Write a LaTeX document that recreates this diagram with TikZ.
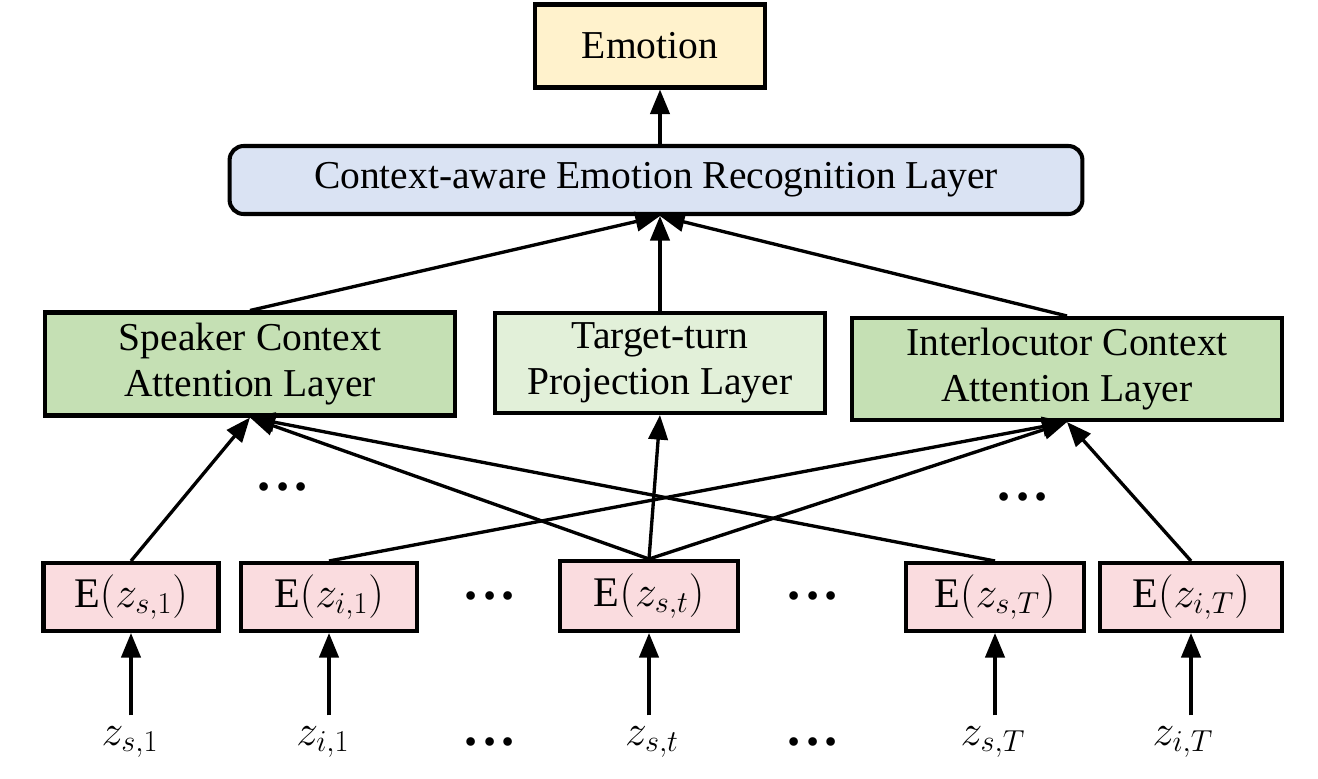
\documentclass[tikz,border=0pt]{standalone}
\usepackage{fontspec}
\setmainfont{Liberation Serif}
\usetikzlibrary{arrows.meta}
\definecolor{emoyellow}{HTML}{FFF2CC}
\definecolor{ctxblue}{HTML}{DAE3F3}
\definecolor{attgreen}{HTML}{C5E0B4}
\definecolor{projgreen}{HTML}{E2F0D9}
\definecolor{embpink}{HTML}{FADCDF}

\begin{document}
\begin{tikzpicture}[x=0.02cm,y=-0.02cm,>={Triangle[length=14pt,width=11pt]},
    box/.style={draw,line width=2.3pt,align=center,inner sep=0pt,font=\fontsize{22.5}{26}\selectfont},
    emb/.style={box,fill=embpink,minimum height=1.36cm,font=\fontsize{24}{26}\selectfont},
    arr/.style={->,line width=1.9pt},
    lbl/.style={font=\fontsize{26}{28}\selectfont,inner sep=2pt},
    dots/.style={font=\fontsize{30}{30}\selectfont\bfseries,inner sep=0pt}]

    \useasboundingbox (0,0) rectangle (1318,778);

    % top part
    \node[box, fill=emoyellow, minimum width=4.6cm, minimum height=1.66cm] (emo) at (650,46) {Emotion};
    \node[box, fill=ctxblue, rounded corners=8pt, minimum width=17.06cm, minimum height=1.36cm] (ctx) at (656,180) {Context-aware Emotion Recognition Layer};

    % middle layers
    \node[box, fill=attgreen, minimum width=8.22cm, minimum height=2.06cm] (spk) at (250,364) {Speaker Context\\Attention Layer};
    \node[box, fill=projgreen, minimum width=6.6cm, minimum height=2.0cm] (tgt) at (660,363) {Target-turn\\Projection Layer};
    \node[box, fill=attgreen, minimum width=8.6cm, minimum height=2.04cm] (itl) at (1067,369) {Interlocutor Context\\Attention Layer};

    % embeddings
    \node[emb, minimum width=3.5cm] (es1) at (131,597) {E$(z_{s,1})$};
    \node[emb, minimum width=3.52cm] (ei1) at (329,597) {E$(z_{i,1})$};
    \node[emb, minimum width=3.56cm, minimum height=1.4cm] (est) at (649,596) {E$(z_{s,t})$};
    \node[emb, minimum width=3.56cm] (esT) at (995,597) {E$(z_{s,T})$};
    \node[emb, minimum width=3.64cm] (eiT) at (1191,597) {E$(z_{i,T})$};

    % inputs
    \node[lbl] (zs1) at (130,742) {$z_{s,1}$};
    \node[lbl] (zi1) at (323,742) {$z_{i,1}$};
    \node[lbl] (zst) at (652,742) {$z_{s,t}$};
    \node[lbl] (zsT) at (993,742) {$z_{s,T}$};
    \node[lbl] (ziT) at (1183,742) {$z_{i,T}$};

    % dots
    \node[dots] (d1) at (283,487) {.\hspace{3pt}.\hspace{3pt}.};
    \node[dots] (d2) at (490,596) {.\hspace{3pt}.\hspace{3pt}.};
    \node[dots] (d3) at (813,596) {.\hspace{3pt}.\hspace{3pt}.};
    \node[dots] (d4) at (1023,497) {.\hspace{3pt}.\hspace{3pt}.};
    \node[dots] (d5) at (490,742) {.\hspace{3pt}.\hspace{3pt}.};
    \node[dots] (d6) at (813,742) {.\hspace{3pt}.\hspace{3pt}.};

    \draw[arr] (ctx.north -| tgt) -- (emo.south -| tgt);
    \draw[arr] (spk.north) -- (ctx.south -| tgt);
    \draw[arr] (tgt.north) -- (ctx.south -| tgt);
    \draw[arr] (itl.north) -- (ctx.south -| tgt);

    \draw[arr] (es1.north) -- (spk.south);
    \draw[arr] (est.north) -- (spk.south);
    \draw[arr] (esT.north) -- (spk.south);
    \draw[arr] (est.north) -- (tgt.south);
    \draw[arr] (ei1.north) -- (itl.south);
    \draw[arr] (est.north) -- (itl.south);
    \draw[arr] (eiT.north) -- (itl.south);

    \draw[arr, shorten <=4pt] (zs1.north -| es1) -- (es1.south);
    \draw[arr, shorten <=4pt] (zi1.north -| ei1) -- (ei1.south);
    \draw[arr, shorten <=4pt] (zst.north -| est) -- (est.south);
    \draw[arr, shorten <=4pt] (zsT.north -| esT) -- (esT.south);
    \draw[arr, shorten <=4pt] (ziT.north -| eiT) -- (eiT.south);
\end{tikzpicture}
\end{document}
